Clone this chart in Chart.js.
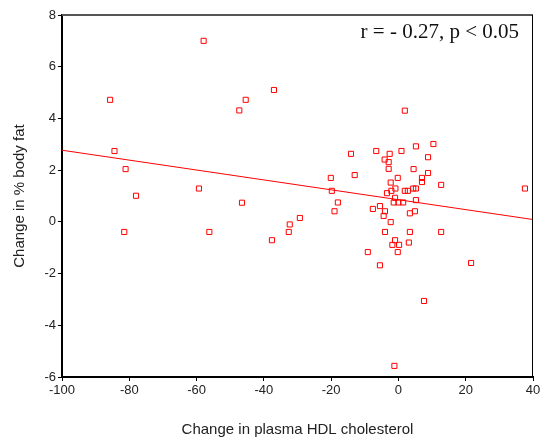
<!DOCTYPE html>
<html>
<head>
<meta charset="utf-8">
<script src="https://cdn.jsdelivr.net/npm/chart.js@4"></script>
<style>
  body { margin: 0; background: #fff; }
  #wrap { width: 541px; height: 441px; }
</style>
</head>
<body>
<div id="wrap"><canvas id="hdlChart"></canvas></div>
<script>
// change in plasma HDL cholesterol (x) vs change in % body fat (y)
const hdlChange = [
  -85.7, -84.4, -81.1, -78.0, -81.5, -57.9, -59.3, -56.2, -47.3, -45.4,
  -46.5, -37.0, -37.6, -32.3, -32.6, -29.3, -20.1, -19.8, -18.0, -19.0,
  -14.1, -13.0, -9.1, -7.6, -6.6, -5.5, -5.5, -4.1, -4.0, -4.4,
  -4.0, -3.4, -2.9, -2.9, -2.6, -2.3, -2.3, -2.1, -1.8, -1.4,
  -1.2, -1.0, -1.0, -0.9, -0.2, -0.2, 0.0, 0.2, 0.9, 1.4,
  1.9, 1.9, 2.8, 3.1, 3.4, 3.4, 4.4, 4.5, 4.9, 5.2,
  5.2, 5.2, 7.0, 7.0, 7.6, 8.8, 8.8, 10.4, 12.7, 12.7,
  21.6, 37.6
];
const fatChange = [
  4.72, 2.74, 2.04, 1.01, -0.39, 7.0, 1.29, -0.39, 4.31, 4.72,
  0.74, 5.1, -0.71, -0.10, -0.39, 0.15, 1.70, 1.20, 0.75, 0.41,
  2.63, 1.81, -1.17, 0.50, 2.74, 0.61, -1.68, 2.41, 0.41, 0.23,
  -0.39, 1.11, 2.31, 2.05, 2.63, 1.52, -0.01, 1.20, -0.89, 0.75,
  -5.57, 0.93, -0.71, 1.29, 1.70, -1.17, 0.75, -0.89, 2.74, 0.75,
  1.20, 4.30, 1.20, -0.80, 0.33, -0.39, 1.29, 2.04, 0.41, 2.92,
  1.29, 0.84, 1.70, 1.54, -3.06, 2.50, 1.89, 3.01, 1.43, -0.39,
  -1.59, 1.29
];

// fitted regression line, read at the two ends of the x axis
const fitX = [-100, 40];
const fitY = [2.77, 0.09];

const xTicks = [-100, -80, -60, -40, -20, 0, 20, 40];
const yTicks = [-6, -4, -2, 0, 2, 4, 6, 8];
const statText = "r = - 0.27, p < 0.05";

const points = hdlChange.map((x, i) => ({ x: x, y: fatChange[i] }));
const fitLine = fitX.map((x, i) => ({ x: x, y: fitY[i] }));

// top/right frame and stats label
const framePlugin = {
  id: "frame",
  afterDraw(chart) {
    const { ctx, chartArea: a } = chart;
    ctx.save();
    ctx.strokeStyle = "#555";
    ctx.lineWidth = 2;
    ctx.beginPath();
    ctx.moveTo(a.left, a.top);
    ctx.lineTo(a.right, a.top);
    ctx.stroke();
    ctx.strokeStyle = "#000";
    ctx.lineWidth = 1;
    ctx.beginPath();
    ctx.moveTo(a.right - 0.5, a.top);
    ctx.lineTo(a.right - 0.5, a.bottom);
    ctx.stroke();
    ctx.fillStyle = "#111";
    ctx.font = "21px 'Liberation Serif', serif";
    ctx.textAlign = "right";
    ctx.textBaseline = "alphabetic";
    ctx.fillText(statText, a.right - 14, a.top + 23);
    ctx.restore();
  },
};

const ctx = document.getElementById("hdlChart").getContext("2d");
new Chart(ctx, {
  type: "scatter",
  data: {
    datasets: [
      {
        label: "data",
        data: points,
        pointStyle: "rect",
        pointRadius: 3.6,
        pointBorderWidth: 1,
        pointBorderColor: "#ff0000",
        pointBackgroundColor: "rgba(0,0,0,0)",
        pointHoverRadius: 3.6,
      },
      {
        type: "line",
        label: "fit",
        data: fitLine,
        borderColor: "#ff0000",
        borderWidth: 1,
        pointRadius: 0,
        fill: false,
      },
    ],
  },
  options: {
    responsive: true,
    maintainAspectRatio: false,
    animation: false,
    layout: { padding: { top: 15, right: 8, left: 0, bottom: 0 } },
    plugins: {
      legend: { display: false },
      tooltip: { enabled: false },
    },
    scales: {
      x: {
        type: "linear",
        min: -100,
        max: 40,
        afterBuildTicks: (s) => { s.ticks = xTicks.map((v) => ({ value: v })); },
        afterFit: (s) => {
          s.height = 64;
          s.paddingLeft = 0;
          s.paddingRight = 0;
        },
        grid: {
          drawOnChartArea: false,
          tickLength: 4,
          color: "#000",
        },
        border: { color: "#000", width: 2 },
        ticks: {
          color: "#222",
          padding: 2,
          font: { family: "'Liberation Sans', Arial", size: 13 },
        },
        title: {
          display: true,
          text: "Change in plasma HDL cholesterol",
          color: "#222",
          padding: { top: 0, bottom: 2 },
          font: { family: "'Liberation Sans', Arial", size: 15 },
        },
      },
      y: {
        type: "linear",
        min: -6,
        max: 8,
        afterBuildTicks: (s) => { s.ticks = yTicks.map((v) => ({ value: v })); },
        afterFit: (s) => { s.width = 62; },
        grid: {
          drawOnChartArea: false,
          tickLength: 4,
          color: "#000",
        },
        border: { color: "#000", width: 2 },
        ticks: {
          color: "#222",
          padding: 2,
          font: { family: "'Liberation Sans', Arial", size: 13 },
        },
        title: {
          display: true,
          text: "Change in % body fat",
          color: "#222",
          padding: { top: 11, bottom: 0 },
          font: { family: "'Liberation Sans', Arial", size: 15 },
        },
      },
    },
  },
  plugins: [framePlugin],
});
</script>
</body>
</html>
